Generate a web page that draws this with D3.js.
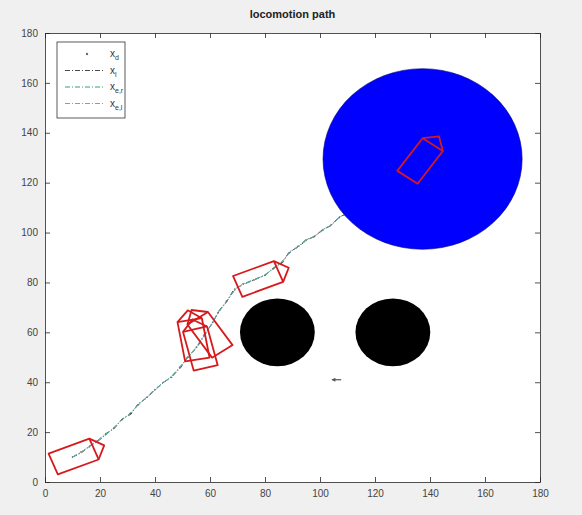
<!DOCTYPE html>
<html>
<head>
<meta charset="utf-8">
<script src="https://cdn.jsdelivr.net/npm/d3@7"></script>
<style>
  html, body { margin: 0; padding: 0; background: #f0f0f0; }
  svg { display: block; font-family: "Liberation Sans", Arial, sans-serif; }
</style>
</head>
<body>
<svg id="chart" width="582" height="515"></svg>
<script>
// Axis ticks
const xTicks = [0, 20, 40, 60, 80, 100, 120, 140, 160, 180];
const yTicks = [0, 20, 40, 60, 80, 100, 120, 140, 160, 180];

// Desired / tracked path samples (x, y)
const pathX = [10, 13, 16, 19, 22, 25, 28, 31, 34, 37, 40, 43, 46, 49, 52, 55, 58, 61, 63, 66, 69, 72, 76, 80, 83, 86, 89, 92, 95, 98, 101, 104, 107, 110];
const pathY = [10, 12, 14, 16.5, 19, 21.5, 25, 27.5, 31, 34, 37, 40, 42, 46, 50, 54, 59, 64, 68, 72.5, 77, 79.5, 81, 83, 85.5, 88, 92, 94.5, 97, 98.5, 101, 103, 106, 108];
// Small per-series deviations from the desired path
const offLX = [0, 0.3, -0.2, 0.2, 0.4, -0.3, 0.1, 0.3, -0.2, 0.2, 0.3, -0.1, 0.2, 0.3, -0.2, 0.1, 0.3, -0.2, 0.2, 0.1, -0.3, 0.2, 0.3, -0.1, 0.2, 0.3, -0.2, 0.1, 0.3, -0.2, 0.2, 0.1, -0.2, 0.2];
const offLY = [0, -0.3, 0.2, -0.2, 0.3, -0.2, 0.2, -0.3, 0.3, -0.2, 0.2, -0.3, 0.3, -0.2, 0.2, -0.3, 0.2, -0.2, 0.3, -0.2, 0.3, -0.3, 0.2, -0.2, 0.3, -0.2, 0.3, -0.3, 0.2, -0.2, 0.3, -0.2, 0.2, -0.3];

// Series styling keys
const seriesNames = ["x_d", "x_l", "x_er", "x_el"];
const seriesColors = ["#6a6a6a", "#4a4a4a", "#3f9a6e", "#6fa9b8"];

// Robot poses: centre (x, y) and heading in degrees
const robotX = [10.4, 56.5, 60, 54, 77.5, 136.4];
const robotY = [10.2, 53.5, 59, 57, 81.4, 128.7];
const robotHeading = [22, 104, 124, 100, 22, 55];
const robotLength = 16, robotWidth = 9, robotNose = 4;

// Obstacles (black) and goal region (blue): centre and radius
const obstacleX = [84.5, 126.5];
const obstacleY = [60, 60];
const obstacleR = [13.6, 13.6];
const goalX = [137.3], goalY = [129.5], goalR = [36.2];

// Small heading arrow
const arrowX = [104.5], arrowY = [41], arrowU = [3.2], arrowV = [0];

const svg = d3.select("#chart");
const plotLeft = 45, plotRight = 540, plotTop = 33, plotBottom = 482;

const x = d3.scaleLinear().domain([0, 180]).range([plotLeft, plotRight]);
const y = d3.scaleLinear().domain([0, 180]).range([plotBottom, plotTop]);

// Plot area
svg.append("rect").attr("x", plotLeft).attr("y", plotTop)
  .attr("width", plotRight - plotLeft).attr("height", plotBottom - plotTop)
  .attr("fill", "#ffffff");

const clip = svg.append("clipPath").attr("id", "plotclip");
clip.append("rect").attr("x", plotLeft).attr("y", plotTop)
  .attr("width", plotRight - plotLeft).attr("height", plotBottom - plotTop);
const plot = svg.append("g").attr("clip-path", "url(#plotclip)");

// Path series
const line = d3.line().x(d => x(d[0])).y(d => y(d[1]));
const ptsD = pathX.map((v, i) => [v, pathY[i]]);
const ptsL = pathX.map((v, i) => [v + offLX[i], pathY[i] + offLY[i]]);
const ptsER = pathX.map((v, i) => [v - offLX[i] * 0.6, pathY[i] + offLY[i] * 0.8]);
const ptsEL = pathX.map((v, i) => [v + offLY[i] * 0.5, pathY[i] - offLX[i] * 0.5]);

plot.append("path").attr("d", line(ptsL)).attr("fill", "none")
  .attr("stroke", seriesColors[1]).attr("stroke-width", 1)
  .attr("stroke-dasharray", "5,2,1,2");
plot.append("path").attr("d", line(ptsER)).attr("fill", "none")
  .attr("stroke", seriesColors[2]).attr("stroke-width", 1)
  .attr("stroke-dasharray", "5,2,1,2");
plot.append("path").attr("d", line(ptsEL)).attr("fill", "none")
  .attr("stroke", seriesColors[3]).attr("stroke-width", 1)
  .attr("stroke-dasharray", "5,2,1,2");
plot.selectAll("circle.xd").data(ptsD).join("circle").attr("class", "xd")
  .attr("cx", d => x(d[0])).attr("cy", d => y(d[1])).attr("r", 0.8)
  .attr("fill", seriesColors[0]);

// Obstacles
plot.selectAll("ellipse.obs").data(obstacleX).join("ellipse").attr("class", "obs")
  .attr("cx", (d, i) => x(d)).attr("cy", (d, i) => y(obstacleY[i]))
  .attr("rx", (d, i) => x(obstacleR[i]) - x(0))
  .attr("ry", (d, i) => y(0) - y(obstacleR[i]))
  .attr("fill", "#000000");

// Goal region
plot.selectAll("ellipse.goal").data(goalX).join("ellipse").attr("class", "goal")
  .attr("cx", (d, i) => x(d)).attr("cy", (d, i) => y(goalY[i]))
  .attr("rx", (d, i) => x(goalR[i]) - x(0))
  .attr("ry", (d, i) => y(0) - y(goalR[i]))
  .attr("fill", "#0000ff").attr("stroke", "#00007a").attr("stroke-width", 0.6);

// Robot outlines: rectangle body with a triangular nose
function robotOutline(cx, cy, deg) {
  const t = deg * Math.PI / 180, c = Math.cos(t), s = Math.sin(t);
  const L = robotLength / 2, W = robotWidth / 2;
  const local = [[-L, -W], [L, -W], [L + robotNose, 0], [L, W], [-L, W]];
  const pts = local.map(p => [cx + p[0] * c - p[1] * s, cy + p[0] * s + p[1] * c]);
  const front = [[L, -W], [L, W]].map(p => [cx + p[0] * c - p[1] * s, cy + p[0] * s + p[1] * c]);
  return { body: pts, front: front };
}
const robots = robotX.map((v, i) => robotOutline(v, robotY[i], robotHeading[i]));
const rg = plot.append("g").attr("fill", "none").attr("stroke", "#d8191c")
  .attr("stroke-width", 1.8).attr("stroke-linejoin", "round");
robots.forEach(r => {
  rg.append("path").attr("d", line(r.body) + "Z");
  rg.append("path").attr("d", line(r.front));
});

// Heading arrow
arrowX.forEach((v, i) => {
  const x0 = x(v), y0 = y(arrowY[i]), x1 = x(v + arrowU[i]), y1 = y(arrowY[i] + arrowV[i]);
  plot.append("line").attr("x1", x0).attr("y1", y0).attr("x2", x1).attr("y2", y1)
    .attr("stroke", "#555").attr("stroke-width", 1.2);
  plot.append("path").attr("d", `M${x0 - 1},${y0}L${x0 + 3},${y0 - 2}L${x0 + 3},${y0 + 2}Z`)
    .attr("fill", "#555");
});

// Axes (MATLAB-style inward ticks on all four sides)
const axisColor = "#262626";
const gx = svg.append("g").attr("transform", `translate(0,${plotBottom})`)
  .call(d3.axisBottom(x).tickValues(xTicks).tickSizeInner(-5).tickSizeOuter(0).tickPadding(8));
const gy = svg.append("g").attr("transform", `translate(${plotLeft},0)`)
  .call(d3.axisLeft(y).tickValues(yTicks).tickSizeInner(-5).tickSizeOuter(0).tickPadding(7));
const gt = svg.append("g").attr("transform", `translate(0,${plotTop})`)
  .call(d3.axisTop(x).tickValues(xTicks).tickSizeInner(-5).tickSizeOuter(0).tickFormat(""));
const gr = svg.append("g").attr("transform", `translate(${plotRight},0)`)
  .call(d3.axisRight(y).tickValues(yTicks).tickSizeInner(-5).tickSizeOuter(0).tickFormat(""));
[gx, gy, gt, gr].forEach(g => {
  g.select(".domain").attr("stroke", axisColor).attr("stroke-width", 0.8);
  g.selectAll(".tick line").attr("stroke", axisColor).attr("stroke-width", 0.8);
  g.selectAll("text").attr("fill", "#444").attr("font-size", 10);
});

// Title
svg.append("text").attr("x", (plotLeft + plotRight) / 2).attr("y", 18)
  .attr("text-anchor", "middle").attr("font-size", 11).attr("font-weight", "bold")
  .attr("fill", "#222").text("locomotion path");

// Legend
const lg = svg.append("g").attr("transform", "translate(57,42)");
lg.append("rect").attr("width", 68).attr("height", 76)
  .attr("fill", "#ffffff").attr("stroke", "#333").attr("stroke-width", 0.8);
const labelMain = ["x", "x", "x", "x"];
const labelSub = ["d", "l", "e,r", "e,l"];
seriesNames.forEach((n, i) => {
  const yy = 12 + i * 16.5;
  if (i === 0) {
    lg.append("circle").attr("cx", 30).attr("cy", yy).attr("r", 1.2).attr("fill", seriesColors[0]);
  } else {
    lg.append("line").attr("x1", 8).attr("x2", 48).attr("y1", yy).attr("y2", yy)
      .attr("stroke", seriesColors[i]).attr("stroke-width", 1)
      .attr("stroke-dasharray", "5,2,1,2");
  }
  const t = lg.append("text").attr("x", 53).attr("y", yy + 3)
    .attr("font-size", 10).attr("fill", "#333");
  t.append("tspan").text(labelMain[i]);
  t.append("tspan").attr("font-size", 7).attr("dy", 3).text(labelSub[i]);
});
</script>
</body>
</html>
